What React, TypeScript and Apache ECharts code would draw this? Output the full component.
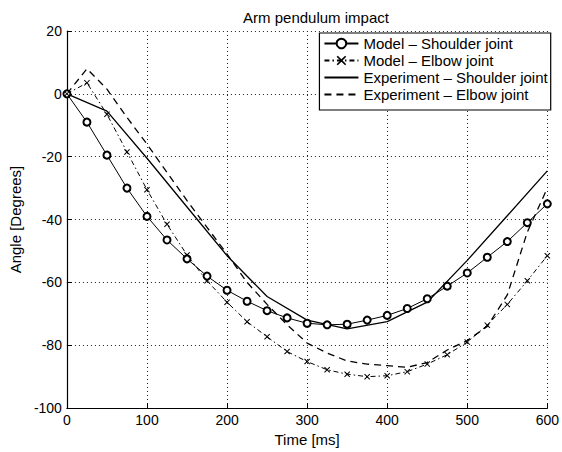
import React, { useEffect, useRef } from "react";
import * as echarts from "echarts";

const timesModel = [0, 25, 50, 75, 100, 125, 150, 175, 200, 225, 250, 275, 300, 325, 350, 375, 400, 425, 450, 475, 500, 525, 550, 575, 600];
const modelShoulder = [0, -9, -19.5, -30, -39, -46.5, -52.5, -58, -62.5, -66, -69, -71.3, -73, -73.5, -73.3, -72, -70.5, -68.3, -65.2, -61.2, -57, -52, -47, -41, -35];
const modelElbow = [0, 3.5, -6.5, -18.5, -30.5, -41.5, -51.3, -59.5, -66.3, -72.5, -77.3, -82, -85.2, -87.8, -89.2, -90, -89.7, -88.4, -86, -83, -79, -73.6, -67, -59.5, -51.5];

const timesExpShoulder = [0, 50, 100, 150, 200, 250, 300, 350, 400, 450, 500, 550, 600];
const expShoulder = [0, -5.5, -20.5, -36, -51.5, -64.5, -72, -74.8, -72.5, -66.3, -53, -38.8, -24.5];

const timesExpElbow = [0, 25, 50, 75, 100, 125, 150, 175, 200, 225, 250, 275, 300, 325, 350, 375, 400, 425, 450, 475, 500, 525, 550, 575, 600];
const expElbow = [0, 8, 1.5, -7.5, -16, -25, -34, -42.5, -51, -60, -67, -73.5, -79.3, -82.5, -85, -86, -86.5, -87, -85.5, -81.5, -78.5, -74, -64, -44, -30];

const seriesNames = [
  "Model \u2013 Shoulder joint",
  "Model \u2013 Elbow joint",
  "Experiment \u2013 Shoulder joint",
  "Experiment \u2013 Elbow joint",
];

const titleText = "Arm pendulum impact";
const xName = "Time [ms]";
const yName = "Angle [Degrees]";

const pairs = (xs: number[], ys: number[]) => xs.map((x, i) => [x, ys[i]]);

const XMARK = "path://M0,1.2L1.2,0L5,3.8L8.8,0L10,1.2L6.2,5L10,8.8L8.8,10L5,6.2L1.2,10L0,8.8L3.8,5Z";
const FONT = "'Liberation Sans', Arial, Helvetica, sans-serif";

export default function App() {
  const ref = useRef<HTMLDivElement>(null);
  useEffect(() => {
    if (!ref.current) return;
    const chart = echarts.init(ref.current, undefined, { renderer: "svg" });
    chart.setOption({
      animation: false,
      backgroundColor: "#fff",
      textStyle: { fontFamily: FONT, color: "#000" },
      title: {
        text: titleText,
        left: 311,
        textAlign: "center",
        top: 5,
        textStyle: { fontSize: 15, fontWeight: "normal", color: "#000", fontFamily: FONT },
      },
      grid: { left: 66.7, right: 9, top: 31, bottom: 36, containLabel: false },
      legend: {
        orient: "vertical",
        right: 11.3,
        top: 33,
        padding: [3, 3, 8, 4],
        itemWidth: 34,
        itemHeight: 12,
        itemGap: 2,
        backgroundColor: "#fff",
        borderColor: "#000",
        borderWidth: 1.2,
        borderRadius: 0,
        textStyle: { fontSize: 15, color: "#000", fontFamily: FONT },
        data: [
          { name: seriesNames[0] },
          { name: seriesNames[1] },
          { name: seriesNames[2], itemStyle: { opacity: 0 } },
          { name: seriesNames[3], itemStyle: { opacity: 0 } },
        ],
      },
      xAxis: {
        type: "value",
        min: 0,
        max: 600,
        interval: 100,
        name: xName,
        nameLocation: "middle",
        nameGap: 22,
        nameTextStyle: { fontSize: 15, color: "#000", fontFamily: FONT },
        axisLine: { show: true, onZero: false, lineStyle: { color: "#000", width: 1.2 } },
        axisTick: { show: true, inside: true, length: 5, lineStyle: { color: "#000" } },
        axisLabel: { fontSize: 14, color: "#000", margin: 5, fontFamily: FONT },
        splitLine: { show: true, lineStyle: { color: "#222", type: [1, 3], width: 1 } },
      },
      yAxis: {
        type: "value",
        min: -100,
        max: 20,
        interval: 20,
        name: yName,
        nameLocation: "middle",
        nameGap: 40,
        nameTextStyle: { fontSize: 15, color: "#000", fontFamily: FONT },
        axisLine: { show: true, onZero: false, lineStyle: { color: "#000", width: 1.2 } },
        axisTick: { show: true, inside: true, length: 5, lineStyle: { color: "#000" } },
        axisLabel: { fontSize: 14, color: "#000", margin: 5, fontFamily: FONT },
        splitLine: { show: true, lineStyle: { color: "#222", type: [1, 3], width: 1 } },
      },
      series: [
        {
          name: seriesNames[0],
          type: "line",
          data: pairs(timesModel, modelShoulder),
          symbol: "emptyCircle",
          symbolSize: 7,
          showSymbol: true,
          lineStyle: { color: "#000", width: 1, type: "solid" },
          itemStyle: { color: "#000", borderColor: "#000", borderWidth: 1 },
          z: 3,
        },
        {
          name: seriesNames[1],
          type: "line",
          data: pairs(timesModel, modelElbow),
          symbol: XMARK,
          symbolSize: 6,
          showSymbol: true,
          lineStyle: { color: "#000", width: 1, type: [5, 3, 1.5, 3] },
          itemStyle: { color: "#000", borderWidth: 0 },
          z: 3,
        },
        {
          name: seriesNames[2],
          type: "line",
          data: pairs(timesExpShoulder, expShoulder),
          symbol: "none",
          lineStyle: { color: "#000", width: 1.3, type: "solid" },
          itemStyle: { color: "#000" },
          z: 2,
        },
        {
          name: seriesNames[3],
          type: "line",
          data: pairs(timesExpElbow, expElbow),
          symbol: "none",
          lineStyle: { color: "#000", width: 1.3, type: [7, 5] },
          itemStyle: { color: "#000" },
          z: 2,
        },
      ],
    });
    return () => chart.dispose();
  }, []);
  return (
    <div
      ref={ref}
      style={{ position: "fixed", left: 0, top: 0, width: 562, height: 452 }}
    />
  );
}
